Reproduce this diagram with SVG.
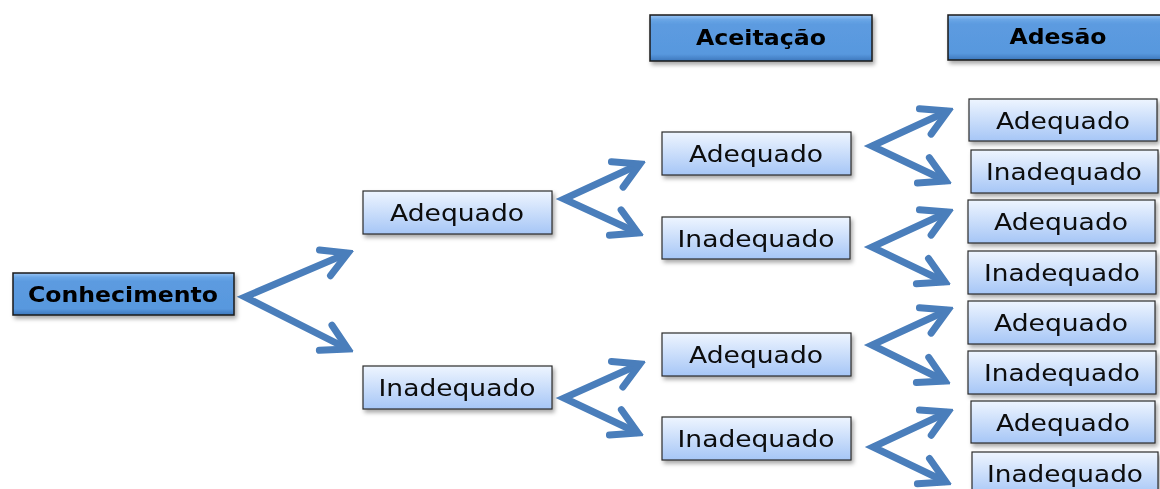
<svg xmlns="http://www.w3.org/2000/svg" width="1160" height="489" viewBox="0 0 1160 489">
<style>
.hdr rect.b{fill:url(#gh);stroke:#1a1a1a;stroke-width:1.5}
.hdr text{font-family:"DejaVu Sans",Verdana,sans-serif;font-weight:bold;font-size:21px;fill:#000;text-anchor:middle}
.opt rect{fill:url(#go);stroke:#2b2b2b;stroke-width:1.2}
.opt text{font-family:"DejaVu Sans",Verdana,sans-serif;font-size:23px;fill:#0a0a0a;text-anchor:middle}
.con path{fill:none;stroke:#4a7ebb;stroke-width:7;stroke-linejoin:miter;marker-start:url(#ah);marker-end:url(#ah)}
</style>
<defs>
<linearGradient id="gh" x1="0" y1="0" x2="0" y2="1">
<stop offset="0" stop-color="#9cc6f4"/><stop offset="0.1" stop-color="#6aa6e6"/><stop offset="0.2" stop-color="#5c9be0"/><stop offset="0.85" stop-color="#5898de"/><stop offset="1" stop-color="#3d77bc"/>
</linearGradient>
<linearGradient id="go" x1="0" y1="0" x2="0" y2="1">
<stop offset="0" stop-color="#eef5ff"/><stop offset="1" stop-color="#a6c6f6"/>
</linearGradient>
<filter id="sh" x="-10%" y="-20%" width="125%" height="160%">
<feDropShadow dx="2" dy="3" stdDeviation="2" flood-color="#000" flood-opacity="0.35"/>
</filter>
<marker id="ah" markerUnits="userSpaceOnUse" viewBox="-34 -20 40 40" markerWidth="40" markerHeight="40" refX="0" refY="0" orient="auto-start-reverse">
<path d="M-25,-14 L0,0 L-25,14" fill="none" stroke="#4a7ebb" stroke-width="7" stroke-linecap="round" stroke-linejoin="miter"/>
</marker>
</defs>
<rect width="1160" height="489" fill="#fff"/>

<g class="con" id="connectors">
<path d="M348,253 L245,297 L348,349"/>
<path d="M640,164 L564,199 L638,233"/>
<path d="M640,364 L564,398 L638,433"/>
<path d="M948,111 L872,146 L946,181"/>
<path d="M948,212 L872,247 L945,282"/>
<path d="M948,310 L872,345 L945,381"/>
<path d="M948,412 L873,447 L946,482"/>
</g>

<g class="hdr" id="n-conhecimento" filter="url(#sh)"><rect class="b" x="13" y="273" width="221" height="42"/><text x="123" y="302" textLength="190" lengthAdjust="spacingAndGlyphs">Conhecimento</text></g>
<g class="hdr" id="n-aceitacao" filter="url(#sh)"><rect class="b" x="650" y="15" width="222" height="46"/><text x="761" y="45" textLength="130" lengthAdjust="spacingAndGlyphs">Aceitação</text></g>
<g class="hdr" id="n-adesao" filter="url(#sh)"><rect class="b" x="948" y="15" width="224" height="45"/><text x="1058" y="44" textLength="97" lengthAdjust="spacingAndGlyphs">Adesão</text></g>

<g class="opt" id="n-c-adequado" filter="url(#sh)"><rect x="363" y="191" width="189" height="43"/><text x="457" y="221" textLength="134" lengthAdjust="spacingAndGlyphs">Adequado</text></g>
<g class="opt" id="n-c-inadequado" filter="url(#sh)"><rect x="363" y="366" width="189" height="43"/><text x="457" y="396" textLength="157" lengthAdjust="spacingAndGlyphs">Inadequado</text></g>

<g class="opt" id="n-a1-adequado" filter="url(#sh)"><rect x="662" y="132" width="189" height="43"/><text x="756" y="162" textLength="134" lengthAdjust="spacingAndGlyphs">Adequado</text></g>
<g class="opt" id="n-a1-inadequado" filter="url(#sh)"><rect x="662" y="217" width="188" height="42"/><text x="756" y="247" textLength="157" lengthAdjust="spacingAndGlyphs">Inadequado</text></g>
<g class="opt" id="n-a2-adequado" filter="url(#sh)"><rect x="662" y="333" width="189" height="43"/><text x="756" y="363" textLength="134" lengthAdjust="spacingAndGlyphs">Adequado</text></g>
<g class="opt" id="n-a2-inadequado" filter="url(#sh)"><rect x="662" y="417" width="189" height="43"/><text x="756" y="447" textLength="157" lengthAdjust="spacingAndGlyphs">Inadequado</text></g>

<g class="opt" id="n-d1" filter="url(#sh)"><rect x="969" y="99" width="188" height="42"/><text x="1063" y="129" textLength="134" lengthAdjust="spacingAndGlyphs">Adequado</text></g>
<g class="opt" id="n-d2" filter="url(#sh)"><rect x="971" y="150" width="187" height="43"/><text x="1064" y="180" textLength="156" lengthAdjust="spacingAndGlyphs">Inadequado</text></g>
<g class="opt" id="n-d3" filter="url(#sh)"><rect x="968" y="200" width="187" height="43"/><text x="1061" y="230" textLength="134" lengthAdjust="spacingAndGlyphs">Adequado</text></g>
<g class="opt" id="n-d4" filter="url(#sh)"><rect x="968" y="251" width="188" height="43"/><text x="1062" y="281" textLength="156" lengthAdjust="spacingAndGlyphs">Inadequado</text></g>
<g class="opt" id="n-d5" filter="url(#sh)"><rect x="968" y="301" width="187" height="43"/><text x="1061" y="331" textLength="134" lengthAdjust="spacingAndGlyphs">Adequado</text></g>
<g class="opt" id="n-d6" filter="url(#sh)"><rect x="968" y="351" width="188" height="43"/><text x="1062" y="381" textLength="156" lengthAdjust="spacingAndGlyphs">Inadequado</text></g>
<g class="opt" id="n-d7" filter="url(#sh)"><rect x="971" y="401" width="184" height="42"/><text x="1063" y="431" textLength="134" lengthAdjust="spacingAndGlyphs">Adequado</text></g>
<g class="opt" id="n-d8" filter="url(#sh)"><rect x="972" y="452" width="186" height="44"/><text x="1065" y="482" textLength="156" lengthAdjust="spacingAndGlyphs">Inadequado</text></g>
</svg>
